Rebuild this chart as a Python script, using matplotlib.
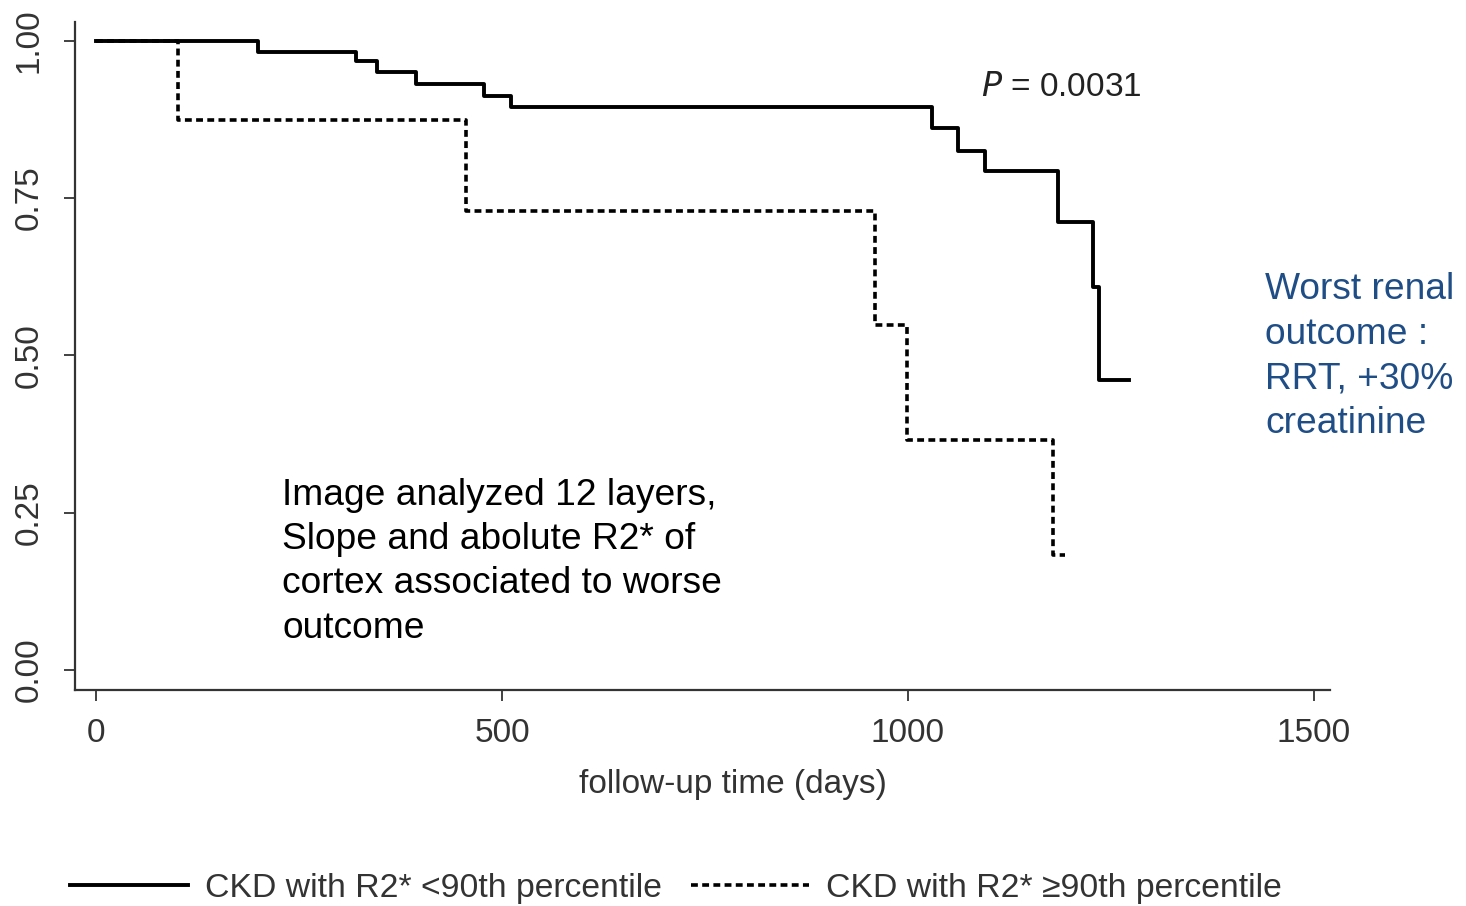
import matplotlib
matplotlib.use("Agg")
import matplotlib.pyplot as plt

plt.rcParams['font.family'] = ['Liberation Sans', 'DejaVu Sans']

# Data (Kaplan-Meier step functions)
low_t = [0, 200, 320, 346, 394, 478, 511, 1030, 1062, 1095, 1185, 1228, 1236, 1273]
low_s = [1.0, 0.983, 0.968, 0.951, 0.932, 0.913, 0.895, 0.862, 0.825, 0.793, 0.712, 0.609, 0.461, 0.461]
high_t = [0, 101, 456, 959, 999, 1179, 1193]
high_s = [1.0, 0.874, 0.730, 0.548, 0.366, 0.183, 0.183]
low_label = "CKD with R2* <90th percentile"
high_label = "CKD with R2* \u226590th percentile"
xticks = [0, 500, 1000, 1500]
yticks = [0.00, 0.25, 0.50, 0.75, 1.00]
ytick_labels = ["0.00", "0.25", "0.50", "0.75", "1.00"]

fig = plt.figure(figsize=(14.66, 9.06), dpi=100)
ax = fig.add_axes([75/1466, 1-690/906, (1330-75)/1466, (690-22)/906])

ax.step(low_t, low_s, where='post', color='black', lw=2.8, label=low_label, zorder=3)
ax.step(high_t, high_s, where='post', color='black', lw=2.6,
        linestyle=(0, (1.9, 1.2)), label=high_label, zorder=2)

ax.set_xlim(-26, 1520)
ax.set_ylim(-0.032, 1.030)
for s in ['top', 'right']:
    ax.spines[s].set_visible(False)
for s in ['left', 'bottom']:
    ax.spines[s].set_color('#333333')
    ax.spines[s].set_linewidth(1.6)

tick_font = dict(size=24, color='#333333')
ax.set_xticks(xticks)
ax.set_xticklabels([str(v) for v in xticks], fontdict=tick_font)
ax.set_yticks(yticks)
ax.set_yticklabels(ytick_labels, fontdict=tick_font, rotation=90, va='center')
ax.tick_params(axis='both', length=8, width=1.3, color='#333333')
ax.tick_params(axis='x', pad=12)
ax.tick_params(axis='y', pad=14)

ax.set_xlabel("follow-up time (days)", fontdict=tick_font)
ax.xaxis.set_label_coords((733-75)/1255, -(785-690)/668, transform=ax.transAxes)
ax.xaxis.label.set_va('center')

ax.text(1090, 0.926, "$P$ = 0.0031", fontsize=24, color='#222222',
        va='center', ha='left')
ax.text(229, 0.305, "Image analyzed 12 layers,\nSlope and abolute R2* of\ncortex associated to worse\noutcome",
        fontsize=26.7, color='black', va='top', ha='left', linespacing=1.34)
fig.text(1265/1466, 1-272/906, "Worst renal\noutcome :\nRRT, +30%\ncreatinine",
         fontsize=26.7, color='#1f4e87', va='top', ha='left', linespacing=1.36)

leg = ax.legend(loc='center left', bbox_to_anchor=(70/1466, 1-888/906),
                bbox_transform=fig.transFigure, ncol=2, frameon=False,
                prop=dict(size=24.3),
                handlelength=3.5, handletextpad=0.5, columnspacing=0.85,
                borderaxespad=0, borderpad=0)
for t in leg.get_texts():
    t.set_color('#333333')

fig.savefig("out.png", dpi=100)
